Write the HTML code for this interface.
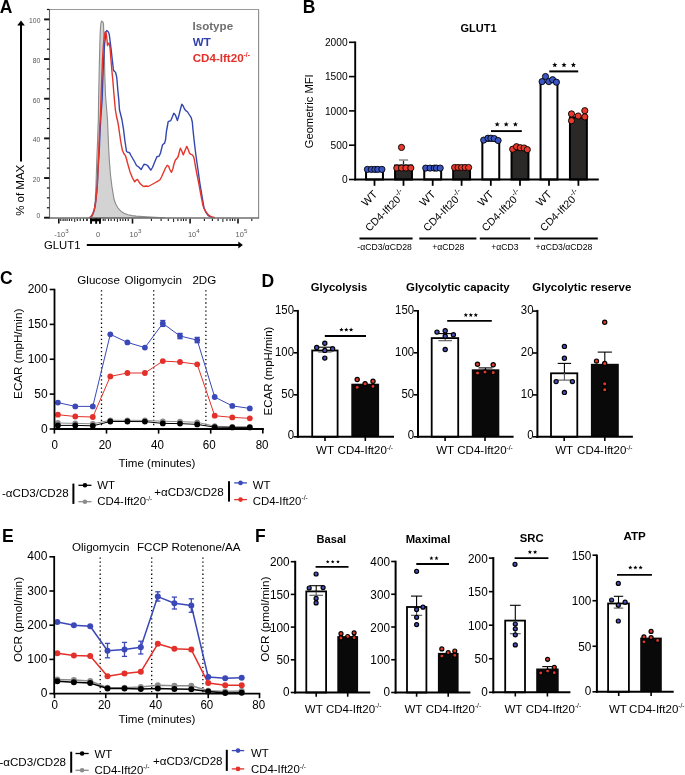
<!DOCTYPE html>
<html><head><meta charset="utf-8"><style>
html,body{margin:0;padding:0;background:#fff;}
svg{display:block;font-family:"Liberation Sans", sans-serif;will-change:transform;}
</style></head><body>
<svg width="685" height="775" viewBox="0 0 685 775">
<rect x="0" y="0" width="685" height="775" fill="#fff"/>
<text x="-0.30" y="12.85" font-size="17.5" text-anchor="start" fill="#000" font-weight="bold" >A</text>
<path d="M90.50,217.70 L92.20,216.50 L93.50,213.00 L94.50,208.00 L95.20,200.90 L96.00,185.00 L96.80,160.00 L97.60,140.00 L98.30,120.00 L98.60,100.00 L99.20,70.00 L99.80,45.00 L100.30,30.00 L100.90,23.00 L101.60,21.00 L103.00,22.00 L103.50,24.00 L103.70,30.00 L103.90,45.00 L104.40,55.00 L104.80,75.00 L105.50,95.00 L106.70,110.00 L107.50,120.00 L108.50,145.00 L109.30,160.00 L110.50,175.00 L112.00,187.00 L112.60,190.70 L114.00,199.00 L115.70,203.90 L118.00,208.00 L120.80,211.10 L124.00,213.20 L127.90,214.70 L132.00,215.60 L136.10,216.10 L146.30,216.80 L155.00,217.30 L165.00,217.70 Z" fill="#d3d3d3" stroke="#8a8a8a" stroke-width="1.1" stroke-linejoin="miter" stroke-miterlimit="10"/>
<polyline points="89.40,217.70 90.60,217.00 91.80,215.60 93.00,213.20 94.20,210.00 95.20,205.50 96.00,199.00 96.70,192.00 97.30,185.00 98.00,170.00 99.30,150.00 100.10,130.00 100.80,118.00 102.10,100.00 102.80,80.00 103.60,60.00 104.50,45.00 105.30,38.00 105.20,32.50 106.70,30.60 108.00,31.50 109.20,34.00 110.00,40.40 111.20,50.00 112.30,60.00 112.90,65.00 113.40,70.00 114.50,71.50 115.40,72.00 116.00,74.00 116.50,76.10 117.00,80.00 117.80,90.00 118.80,100.00 119.50,110.00 120.80,115.00 122.00,120.00 123.60,129.90 124.80,140.00 126.50,151.50 128.00,152.30 129.50,152.60 131.00,155.50 133.00,159.00 135.00,162.50 136.50,165.50 138.50,166.80 141.10,169.60 142.50,167.00 144.00,164.30 146.00,164.60 147.60,165.50 149.30,168.00 150.80,170.20 152.50,167.50 154.50,162.50 156.90,156.70 159.20,156.10 160.50,153.00 162.60,144.70 164.60,143.10 165.50,140.00 166.50,131.00 168.20,121.70 170.70,120.70 172.30,117.00 173.80,113.30 175.40,115.00 177.40,120.50 179.00,115.00 180.50,109.00 181.80,104.30 183.20,106.00 184.50,109.00 185.50,110.40 187.60,112.00 189.50,115.00 191.20,117.60 192.30,122.00 193.00,130.00 194.30,142.00 195.50,152.00 196.60,160.00 198.30,172.00 199.90,183.70 202.00,196.00 203.90,207.20 205.80,212.20 208.00,215.30 210.50,216.90 212.50,217.60" fill="none" stroke="#3346b0" stroke-width="1.4" stroke-linejoin="round" />
<polyline points="89.40,217.70 90.60,217.00 91.80,215.60 93.00,213.20 94.20,210.00 95.20,205.50 96.00,199.00 96.70,192.00 97.30,185.00 98.00,170.00 98.80,150.00 99.60,130.00 100.30,118.00 101.00,100.00 101.70,80.00 102.50,60.00 103.40,45.00 104.20,38.00 104.80,34.00 105.40,31.60 106.20,33.00 106.80,38.00 107.50,45.60 108.30,43.50 109.00,43.00 109.60,45.00 110.20,50.00 111.00,60.00 111.80,70.00 112.80,80.00 114.00,95.00 115.40,110.00 116.60,117.00 117.60,121.00 118.40,125.20 119.50,133.00 120.50,140.00 121.50,146.00 122.40,150.30 123.80,153.50 125.40,155.60 126.50,159.00 127.50,163.00 128.80,167.50 130.00,171.90 131.50,175.50 132.50,178.00 134.70,181.80 136.20,180.00 137.60,179.50 139.00,182.00 140.50,184.00 142.50,185.80 144.00,186.50 146.00,186.00 148.20,186.50 151.00,185.00 154.60,183.00 157.50,181.30 159.80,180.00 161.50,177.00 163.50,172.50 165.50,168.00 167.20,165.30 168.50,166.00 169.80,169.50 171.50,172.30 172.80,169.00 174.00,164.00 175.30,160.20 177.20,158.00 178.20,156.50 179.30,152.00 180.40,148.20 181.80,151.00 183.30,154.90 185.00,150.50 186.80,146.40 188.20,149.50 189.60,153.40 191.00,154.30 192.20,154.90 193.50,156.50 194.40,160.00 195.20,165.00 196.50,172.00 197.80,178.50 198.80,183.70 200.80,194.50 202.90,205.20 204.00,208.50 205.00,210.30 207.00,213.20 209.00,215.40 211.00,216.60 213.10,217.20 215.00,217.70" fill="none" stroke="#e5352b" stroke-width="1.4" stroke-linejoin="round" />
<line x1="49.50" y1="9.50" x2="259.00" y2="9.50" stroke="#9a9a9a" stroke-width="1" />
<line x1="258.60" y1="9.50" x2="258.60" y2="218.00" stroke="#8a8a8a" stroke-width="1.1" />
<line x1="49.50" y1="9.30" x2="49.50" y2="218.50" stroke="#666" stroke-width="1.1" />
<line x1="49.00" y1="218.00" x2="259.10" y2="218.00" stroke="#6e6e6e" stroke-width="1.5" />
<line x1="44.10" y1="217.70" x2="49.40" y2="217.70" stroke="#111" stroke-width="1.9" />
<text transform="translate(40.40 218.20) scale(0.85 1)" x="0" y="0" font-size="8.0" text-anchor="end" fill="#555">0</text>
<line x1="46.90" y1="207.78" x2="49.40" y2="207.78" stroke="#111" stroke-width="1.2" />
<line x1="46.90" y1="197.87" x2="49.40" y2="197.87" stroke="#111" stroke-width="1.2" />
<line x1="46.90" y1="187.95" x2="49.40" y2="187.95" stroke="#111" stroke-width="1.2" />
<line x1="44.10" y1="178.04" x2="49.40" y2="178.04" stroke="#111" stroke-width="1.9" />
<text transform="translate(40.40 181.94) scale(0.85 1)" x="0" y="0" font-size="8.0" text-anchor="end" fill="#555">20</text>
<line x1="46.90" y1="168.12" x2="49.40" y2="168.12" stroke="#111" stroke-width="1.2" />
<line x1="46.90" y1="158.21" x2="49.40" y2="158.21" stroke="#111" stroke-width="1.2" />
<line x1="46.90" y1="148.29" x2="49.40" y2="148.29" stroke="#111" stroke-width="1.2" />
<line x1="44.10" y1="138.38" x2="49.40" y2="138.38" stroke="#111" stroke-width="1.9" />
<text transform="translate(40.40 142.28) scale(0.85 1)" x="0" y="0" font-size="8.0" text-anchor="end" fill="#555">40</text>
<line x1="46.90" y1="128.46" x2="49.40" y2="128.46" stroke="#111" stroke-width="1.2" />
<line x1="46.90" y1="118.55" x2="49.40" y2="118.55" stroke="#111" stroke-width="1.2" />
<line x1="46.90" y1="108.63" x2="49.40" y2="108.63" stroke="#111" stroke-width="1.2" />
<line x1="44.10" y1="98.72" x2="49.40" y2="98.72" stroke="#111" stroke-width="1.9" />
<text transform="translate(40.40 102.62) scale(0.85 1)" x="0" y="0" font-size="8.0" text-anchor="end" fill="#555">60</text>
<line x1="46.90" y1="88.80" x2="49.40" y2="88.80" stroke="#111" stroke-width="1.2" />
<line x1="46.90" y1="78.89" x2="49.40" y2="78.89" stroke="#111" stroke-width="1.2" />
<line x1="46.90" y1="68.97" x2="49.40" y2="68.97" stroke="#111" stroke-width="1.2" />
<line x1="44.10" y1="59.06" x2="49.40" y2="59.06" stroke="#111" stroke-width="1.9" />
<text transform="translate(40.40 62.96) scale(0.85 1)" x="0" y="0" font-size="8.0" text-anchor="end" fill="#555">80</text>
<line x1="46.90" y1="49.14" x2="49.40" y2="49.14" stroke="#111" stroke-width="1.2" />
<line x1="46.90" y1="39.23" x2="49.40" y2="39.23" stroke="#111" stroke-width="1.2" />
<line x1="46.90" y1="29.31" x2="49.40" y2="29.31" stroke="#111" stroke-width="1.2" />
<line x1="44.10" y1="19.40" x2="49.40" y2="19.40" stroke="#111" stroke-width="1.9" />
<text transform="translate(40.40 23.30) scale(0.85 1)" x="0" y="0" font-size="8.0" text-anchor="end" fill="#555">100</text>
<line x1="46.90" y1="9.48" x2="49.40" y2="9.48" stroke="#111" stroke-width="1.2" />
<line x1="60.80" y1="218.70" x2="60.80" y2="221.00" stroke="#1a1a1a" stroke-width="1.1" />
<line x1="63.10" y1="218.70" x2="63.10" y2="221.00" stroke="#1a1a1a" stroke-width="1.1" />
<line x1="65.10" y1="218.70" x2="65.10" y2="221.00" stroke="#1a1a1a" stroke-width="1.1" />
<line x1="67.10" y1="218.70" x2="67.10" y2="221.00" stroke="#1a1a1a" stroke-width="1.1" />
<line x1="69.40" y1="218.70" x2="69.40" y2="221.00" stroke="#1a1a1a" stroke-width="1.1" />
<line x1="71.70" y1="218.70" x2="71.70" y2="221.00" stroke="#1a1a1a" stroke-width="1.1" />
<line x1="77.30" y1="218.70" x2="77.30" y2="221.00" stroke="#1a1a1a" stroke-width="1.1" />
<line x1="80.20" y1="218.70" x2="80.20" y2="221.00" stroke="#1a1a1a" stroke-width="1.1" />
<line x1="83.50" y1="218.70" x2="83.50" y2="221.00" stroke="#1a1a1a" stroke-width="1.1" />
<line x1="86.80" y1="218.70" x2="86.80" y2="221.00" stroke="#1a1a1a" stroke-width="1.1" />
<line x1="87.10" y1="218.70" x2="87.10" y2="221.00" stroke="#1a1a1a" stroke-width="1.1" />
<line x1="103.20" y1="218.70" x2="103.20" y2="221.00" stroke="#1a1a1a" stroke-width="1.1" />
<line x1="105.10" y1="218.70" x2="105.10" y2="221.00" stroke="#1a1a1a" stroke-width="1.1" />
<line x1="108.50" y1="218.70" x2="108.50" y2="221.00" stroke="#1a1a1a" stroke-width="1.1" />
<line x1="111.10" y1="218.70" x2="111.10" y2="221.00" stroke="#1a1a1a" stroke-width="1.1" />
<line x1="114.40" y1="218.70" x2="114.40" y2="221.00" stroke="#1a1a1a" stroke-width="1.1" />
<line x1="120.30" y1="218.70" x2="120.30" y2="221.00" stroke="#1a1a1a" stroke-width="1.1" />
<line x1="122.90" y1="218.70" x2="122.90" y2="221.00" stroke="#1a1a1a" stroke-width="1.1" />
<line x1="125.50" y1="218.70" x2="125.50" y2="221.00" stroke="#1a1a1a" stroke-width="1.1" />
<line x1="128.20" y1="218.70" x2="128.20" y2="221.00" stroke="#1a1a1a" stroke-width="1.1" />
<line x1="151.40" y1="218.70" x2="151.40" y2="221.00" stroke="#1a1a1a" stroke-width="1.1" />
<line x1="161.10" y1="218.70" x2="161.10" y2="221.00" stroke="#1a1a1a" stroke-width="1.1" />
<line x1="168.30" y1="218.70" x2="168.30" y2="221.00" stroke="#1a1a1a" stroke-width="1.1" />
<line x1="177.90" y1="218.70" x2="177.90" y2="221.00" stroke="#1a1a1a" stroke-width="1.1" />
<line x1="181.10" y1="218.70" x2="181.10" y2="221.00" stroke="#1a1a1a" stroke-width="1.1" />
<line x1="183.50" y1="218.70" x2="183.50" y2="221.00" stroke="#1a1a1a" stroke-width="1.1" />
<line x1="186.00" y1="218.70" x2="186.00" y2="221.00" stroke="#1a1a1a" stroke-width="1.1" />
<line x1="204.40" y1="218.70" x2="204.40" y2="221.00" stroke="#1a1a1a" stroke-width="1.1" />
<line x1="212.40" y1="218.70" x2="212.40" y2="221.00" stroke="#1a1a1a" stroke-width="1.1" />
<line x1="218.10" y1="218.70" x2="218.10" y2="221.00" stroke="#1a1a1a" stroke-width="1.1" />
<line x1="226.90" y1="218.70" x2="226.90" y2="221.00" stroke="#1a1a1a" stroke-width="1.1" />
<line x1="230.10" y1="218.70" x2="230.10" y2="221.00" stroke="#1a1a1a" stroke-width="1.1" />
<line x1="232.50" y1="218.70" x2="232.50" y2="221.00" stroke="#1a1a1a" stroke-width="1.1" />
<line x1="234.90" y1="218.70" x2="234.90" y2="221.00" stroke="#1a1a1a" stroke-width="1.1" />
<line x1="251.80" y1="218.70" x2="251.80" y2="221.00" stroke="#1a1a1a" stroke-width="1.1" />
<line x1="74.70" y1="218.70" x2="74.70" y2="222.00" stroke="#222" stroke-width="1.0" />
<line x1="117.40" y1="218.70" x2="117.40" y2="222.00" stroke="#222" stroke-width="1.0" />
<line x1="173.60" y1="218.70" x2="173.60" y2="222.00" stroke="#222" stroke-width="1.0" />
<line x1="222.90" y1="218.70" x2="222.90" y2="222.00" stroke="#222" stroke-width="1.0" />
<line x1="58.80" y1="218.70" x2="58.80" y2="223.60" stroke="#111" stroke-width="1.6" />
<line x1="132.50" y1="218.70" x2="132.50" y2="223.60" stroke="#111" stroke-width="1.6" />
<line x1="190.10" y1="218.70" x2="190.10" y2="223.60" stroke="#111" stroke-width="1.6" />
<line x1="238.00" y1="218.70" x2="238.00" y2="223.60" stroke="#111" stroke-width="1.6" />
<rect x="90.10" y="218.50" width="10.80" height="2.80" fill="#000" stroke="none" stroke-width="0" />
<rect x="90.10" y="218.50" width="1.90" height="5.30" fill="#000" stroke="none" stroke-width="0" />
<rect x="95.20" y="218.50" width="1.90" height="5.30" fill="#000" stroke="none" stroke-width="0" />
<rect x="99.00" y="218.50" width="1.90" height="5.30" fill="#000" stroke="none" stroke-width="0" />
<text x="54.30" y="237.1" font-size="7.5" fill="#5a5a5a">-10<tspan font-size="6.2" dy="-4.2">3</tspan></text>
<text x="98.00" y="237.10" font-size="7.5" text-anchor="middle" fill="#5a5a5a" >0</text>
<text x="129.60" y="237.1" font-size="7.5" fill="#5a5a5a">10<tspan font-size="6.2" dy="-4.2">3</tspan></text>
<text x="187.90" y="237.1" font-size="7.5" fill="#5a5a5a">10<tspan font-size="6.2" dy="-4.2">4</tspan></text>
<text x="235.60" y="237.1" font-size="7.5" fill="#5a5a5a">10<tspan font-size="6.2" dy="-4.2">5</tspan></text>
<text x="24.00" y="190.30" font-size="11.5" text-anchor="middle" fill="#000" transform="rotate(-90 24.00 190.30)" >% of MAX</text>
<rect x="20.00" y="24.50" width="2.00" height="137.00" fill="#000" stroke="none" stroke-width="0" />
<path d="M21,20.6 L17.2,25.4 L24.8,25.4 Z" fill="#000"/>
<text x="44.00" y="249.00" font-size="11.3" text-anchor="start" fill="#000" >GLUT1</text>
<rect x="86.80" y="244.00" width="152.50" height="2.00" fill="#000" stroke="none" stroke-width="0" />
<path d="M242.9,245 L238.3,241.6 L238.3,248.4 Z" fill="#000"/>
<text x="192.50" y="29.70" font-size="11.6" text-anchor="start" fill="#6e6e6e" font-weight="bold" >Isotype</text>
<text x="192.70" y="45.60" font-size="11.6" text-anchor="start" fill="#3141a9" font-weight="bold" >WT</text>
<text x="192.7" y="62.2" font-size="11.6" font-weight="bold" fill="#e2302a">CD4-Ift20<tspan font-size="6.8" dy="-5">-/-</tspan></text>
<text x="302.70" y="12.85" font-size="17.5" text-anchor="start" fill="#000" font-weight="bold" >B</text>
<text x="478.60" y="31.60" font-size="11.0" text-anchor="middle" fill="#000" font-weight="bold" >GLUT1</text>
<line x1="355.20" y1="41.50" x2="355.20" y2="180.40" stroke="#000" stroke-width="1.9" />
<line x1="349.00" y1="179.50" x2="355.20" y2="179.50" stroke="#000" stroke-width="1.6" />
<text x="347.60" y="183.10" font-size="10.2" text-anchor="end" fill="#000" >0</text>
<line x1="349.00" y1="145.20" x2="355.20" y2="145.20" stroke="#000" stroke-width="1.6" />
<text x="347.60" y="148.80" font-size="10.2" text-anchor="end" fill="#000" >500</text>
<line x1="349.00" y1="110.90" x2="355.20" y2="110.90" stroke="#000" stroke-width="1.6" />
<text x="347.60" y="114.50" font-size="10.2" text-anchor="end" fill="#000" >1000</text>
<line x1="349.00" y1="76.60" x2="355.20" y2="76.60" stroke="#000" stroke-width="1.6" />
<text x="347.60" y="80.20" font-size="10.2" text-anchor="end" fill="#000" >1500</text>
<line x1="349.00" y1="42.30" x2="355.20" y2="42.30" stroke="#000" stroke-width="1.6" />
<text x="347.60" y="45.90" font-size="10.2" text-anchor="end" fill="#000" >2000</text>
<text x="312.90" y="111.30" font-size="11.2" text-anchor="middle" fill="#000" transform="rotate(-90 312.90 111.30)" >Geometric MFI</text>
<rect x="366.05" y="169.90" width="16.90" height="9.60" fill="#fff" stroke="#000" stroke-width="2" />
<rect x="395.05" y="165.50" width="16.90" height="14.00" fill="#2b2828" stroke="#000" stroke-width="2" />
<rect x="424.25" y="169.90" width="16.90" height="9.60" fill="#fff" stroke="#000" stroke-width="2" />
<rect x="453.15" y="166.40" width="16.90" height="13.10" fill="#2b2828" stroke="#000" stroke-width="2" />
<rect x="482.35" y="140.70" width="16.90" height="38.80" fill="#fff" stroke="#000" stroke-width="2" />
<rect x="511.55" y="149.60" width="16.90" height="29.90" fill="#2b2828" stroke="#000" stroke-width="2" />
<rect x="540.55" y="81.90" width="16.90" height="97.60" fill="#fff" stroke="#000" stroke-width="2" />
<rect x="569.95" y="117.40" width="16.90" height="62.10" fill="#2b2828" stroke="#000" stroke-width="2" />
<line x1="354.30" y1="179.50" x2="598.80" y2="179.50" stroke="#000" stroke-width="1.9" />
<line x1="374.50" y1="179.50" x2="374.50" y2="185.80" stroke="#000" stroke-width="1.8" />
<line x1="403.50" y1="179.50" x2="403.50" y2="185.80" stroke="#000" stroke-width="1.8" />
<line x1="432.70" y1="179.50" x2="432.70" y2="185.80" stroke="#000" stroke-width="1.8" />
<line x1="461.60" y1="179.50" x2="461.60" y2="185.80" stroke="#000" stroke-width="1.8" />
<line x1="490.80" y1="179.50" x2="490.80" y2="185.80" stroke="#000" stroke-width="1.8" />
<line x1="520.00" y1="179.50" x2="520.00" y2="185.80" stroke="#000" stroke-width="1.8" />
<line x1="549.00" y1="179.50" x2="549.00" y2="185.80" stroke="#000" stroke-width="1.8" />
<line x1="578.40" y1="179.50" x2="578.40" y2="185.80" stroke="#000" stroke-width="1.8" />
<line x1="403.50" y1="160.00" x2="403.50" y2="164.50" stroke="#222" stroke-width="1.3" />
<line x1="399.00" y1="160.00" x2="408.00" y2="160.00" stroke="#9a9a9a" stroke-width="1.7" />
<circle cx="367.40" cy="169.40" r="3.1" fill="#3a55c2" stroke="#000" stroke-width="0.9"/>
<circle cx="371.40" cy="169.40" r="3.1" fill="#3a55c2" stroke="#000" stroke-width="0.9"/>
<circle cx="374.90" cy="169.40" r="3.1" fill="#3a55c2" stroke="#000" stroke-width="0.9"/>
<circle cx="377.80" cy="169.40" r="3.1" fill="#3a55c2" stroke="#000" stroke-width="0.9"/>
<circle cx="381.90" cy="169.40" r="3.1" fill="#3a55c2" stroke="#000" stroke-width="0.9"/>
<circle cx="396.80" cy="168.00" r="3.1" fill="#e63b2c" stroke="#000" stroke-width="0.9"/>
<circle cx="401.50" cy="168.00" r="3.1" fill="#e63b2c" stroke="#000" stroke-width="0.9"/>
<circle cx="405.90" cy="168.00" r="3.1" fill="#e63b2c" stroke="#000" stroke-width="0.9"/>
<circle cx="410.80" cy="168.00" r="3.1" fill="#e63b2c" stroke="#000" stroke-width="0.9"/>
<circle cx="401.50" cy="147.40" r="3.1" fill="#e63b2c" stroke="#000" stroke-width="0.9"/>
<circle cx="425.70" cy="168.10" r="3.1" fill="#3a55c2" stroke="#000" stroke-width="0.9"/>
<circle cx="430.10" cy="168.10" r="3.1" fill="#3a55c2" stroke="#000" stroke-width="0.9"/>
<circle cx="434.30" cy="168.10" r="3.1" fill="#3a55c2" stroke="#000" stroke-width="0.9"/>
<circle cx="436.50" cy="168.10" r="3.1" fill="#3a55c2" stroke="#000" stroke-width="0.9"/>
<circle cx="440.20" cy="168.10" r="3.1" fill="#3a55c2" stroke="#000" stroke-width="0.9"/>
<circle cx="454.60" cy="167.50" r="3.1" fill="#e63b2c" stroke="#000" stroke-width="0.9"/>
<circle cx="458.10" cy="167.50" r="3.1" fill="#e63b2c" stroke="#000" stroke-width="0.9"/>
<circle cx="461.60" cy="167.50" r="3.1" fill="#e63b2c" stroke="#000" stroke-width="0.9"/>
<circle cx="465.10" cy="167.50" r="3.1" fill="#e63b2c" stroke="#000" stroke-width="0.9"/>
<circle cx="468.60" cy="167.50" r="3.1" fill="#e63b2c" stroke="#000" stroke-width="0.9"/>
<circle cx="483.70" cy="140.10" r="3.1" fill="#3a55c2" stroke="#000" stroke-width="0.9"/>
<circle cx="488.00" cy="138.20" r="3.1" fill="#3a55c2" stroke="#000" stroke-width="0.9"/>
<circle cx="490.90" cy="138.20" r="3.1" fill="#3a55c2" stroke="#000" stroke-width="0.9"/>
<circle cx="494.30" cy="138.60" r="3.1" fill="#3a55c2" stroke="#000" stroke-width="0.9"/>
<circle cx="498.10" cy="140.50" r="3.1" fill="#3a55c2" stroke="#000" stroke-width="0.9"/>
<circle cx="512.70" cy="149.20" r="3.1" fill="#e63b2c" stroke="#000" stroke-width="0.9"/>
<circle cx="516.50" cy="146.70" r="3.1" fill="#e63b2c" stroke="#000" stroke-width="0.9"/>
<circle cx="520.30" cy="147.70" r="3.1" fill="#e63b2c" stroke="#000" stroke-width="0.9"/>
<circle cx="524.10" cy="148.00" r="3.1" fill="#e63b2c" stroke="#000" stroke-width="0.9"/>
<circle cx="527.30" cy="149.60" r="3.1" fill="#e63b2c" stroke="#000" stroke-width="0.9"/>
<circle cx="542.10" cy="81.60" r="3.1" fill="#3a55c2" stroke="#000" stroke-width="0.9"/>
<circle cx="545.50" cy="76.50" r="3.1" fill="#3a55c2" stroke="#000" stroke-width="0.9"/>
<circle cx="548.80" cy="81.60" r="3.1" fill="#3a55c2" stroke="#000" stroke-width="0.9"/>
<circle cx="552.60" cy="79.70" r="3.1" fill="#3a55c2" stroke="#000" stroke-width="0.9"/>
<circle cx="556.40" cy="82.20" r="3.1" fill="#3a55c2" stroke="#000" stroke-width="0.9"/>
<circle cx="571.50" cy="113.90" r="3.1" fill="#e63b2c" stroke="#000" stroke-width="0.9"/>
<circle cx="571.50" cy="120.70" r="3.1" fill="#e63b2c" stroke="#000" stroke-width="0.9"/>
<circle cx="578.20" cy="116.00" r="3.1" fill="#e63b2c" stroke="#000" stroke-width="0.9"/>
<circle cx="584.80" cy="110.70" r="3.1" fill="#e63b2c" stroke="#000" stroke-width="0.9"/>
<circle cx="584.80" cy="116.90" r="3.1" fill="#e63b2c" stroke="#000" stroke-width="0.9"/>
<line x1="491.00" y1="131.10" x2="521.80" y2="131.10" stroke="#000" stroke-width="1.9" />
<line x1="549.30" y1="71.40" x2="578.20" y2="71.40" stroke="#000" stroke-width="2" />
<path d="M497.20,121.67 L497.91,123.39 L499.77,123.54 L498.36,124.75 L498.79,126.55 L497.20,125.58 L495.61,126.55 L496.04,124.75 L494.63,123.54 L496.49,123.39 Z" fill="#000"/>
<path d="M506.20,121.67 L506.91,123.39 L508.77,123.54 L507.36,124.75 L507.79,126.55 L506.20,125.58 L504.61,126.55 L505.04,124.75 L503.63,123.54 L505.49,123.39 Z" fill="#000"/>
<path d="M515.40,121.67 L516.11,123.39 L517.97,123.54 L516.56,124.75 L516.99,126.55 L515.40,125.58 L513.81,126.55 L514.24,124.75 L512.83,123.54 L514.69,123.39 Z" fill="#000"/>
<path d="M554.80,62.27 L555.51,63.99 L557.37,64.14 L555.96,65.35 L556.39,67.15 L554.80,66.19 L553.21,67.15 L553.64,65.35 L552.23,64.14 L554.09,63.99 Z" fill="#000"/>
<path d="M564.00,62.27 L564.71,63.99 L566.57,64.14 L565.16,65.35 L565.59,67.15 L564.00,66.19 L562.41,67.15 L562.84,65.35 L561.43,64.14 L563.29,63.99 Z" fill="#000"/>
<path d="M573.40,62.27 L574.11,63.99 L575.97,64.14 L574.56,65.35 L574.99,67.15 L573.40,66.19 L571.81,67.15 L572.24,65.35 L570.83,64.14 L572.69,63.99 Z" fill="#000"/>
<text x="378.00" y="195.00" font-size="11.0" text-anchor="end" transform="rotate(-45 378.00 195.00)">WT</text>
<text x="406.40" y="195.00" font-size="10.5" text-anchor="end" transform="rotate(-45 406.40 195.00)">CD4-Ift20<tspan font-size="7.8" dy="-5.0">-/-</tspan></text>
<text x="436.20" y="195.00" font-size="11.0" text-anchor="end" transform="rotate(-45 436.20 195.00)">WT</text>
<text x="464.50" y="195.00" font-size="10.5" text-anchor="end" transform="rotate(-45 464.50 195.00)">CD4-Ift20<tspan font-size="7.8" dy="-5.0">-/-</tspan></text>
<text x="494.30" y="195.00" font-size="11.0" text-anchor="end" transform="rotate(-45 494.30 195.00)">WT</text>
<text x="522.90" y="195.00" font-size="10.5" text-anchor="end" transform="rotate(-45 522.90 195.00)">CD4-Ift20<tspan font-size="7.8" dy="-5.0">-/-</tspan></text>
<text x="552.50" y="195.00" font-size="11.0" text-anchor="end" transform="rotate(-45 552.50 195.00)">WT</text>
<text x="581.30" y="195.00" font-size="10.5" text-anchor="end" transform="rotate(-45 581.30 195.00)">CD4-Ift20<tspan font-size="7.8" dy="-5.0">-/-</tspan></text>
<line x1="359.50" y1="238.50" x2="412.60" y2="238.50" stroke="#000" stroke-width="2" />
<text transform="translate(384.60 249.80) scale(0.92 1)" x="0" y="0" font-size="9.4" text-anchor="middle" fill="#000">-αCD3/αCD28</text>
<line x1="419.30" y1="238.50" x2="476.40" y2="238.50" stroke="#000" stroke-width="2" />
<text transform="translate(448.20 249.80) scale(0.92 1)" x="0" y="0" font-size="9.4" text-anchor="middle" fill="#000">+αCD28</text>
<line x1="479.80" y1="238.50" x2="530.30" y2="238.50" stroke="#000" stroke-width="2" />
<text transform="translate(504.80 249.80) scale(0.92 1)" x="0" y="0" font-size="9.4" text-anchor="middle" fill="#000">+αCD3</text>
<line x1="534.00" y1="238.50" x2="597.80" y2="238.50" stroke="#000" stroke-width="2" />
<text transform="translate(564.00 249.80) scale(0.92 1)" x="0" y="0" font-size="9.4" text-anchor="middle" fill="#000">+αCD3/αCD28</text>
<text x="0.00" y="284.40" font-size="17.5" text-anchor="start" fill="#000" font-weight="bold" >C</text>
<line x1="101.50" y1="290.20" x2="101.50" y2="428.00" stroke="#000" stroke-width="1.3" stroke-dasharray="1.3 2.75"/>
<line x1="153.70" y1="290.20" x2="153.70" y2="428.00" stroke="#000" stroke-width="1.3" stroke-dasharray="1.3 2.75"/>
<line x1="205.90" y1="290.20" x2="205.90" y2="428.00" stroke="#000" stroke-width="1.3" stroke-dasharray="1.3 2.75"/>
<polyline points="57.90,423.00 75.30,423.40 92.80,423.80 110.30,420.30 127.40,420.30 144.90,420.40 162.80,421.30 180.00,421.60 197.20,422.30 214.70,426.20 232.30,426.80 249.80,426.80" fill="none" stroke="#8c8c8c" stroke-width="1.0" stroke-linejoin="round" />
<circle cx="57.90" cy="423.00" r="2.9" fill="#8c8c8c"/>
<circle cx="75.30" cy="423.40" r="2.9" fill="#8c8c8c"/>
<circle cx="92.80" cy="423.80" r="2.9" fill="#8c8c8c"/>
<circle cx="110.30" cy="420.30" r="2.9" fill="#8c8c8c"/>
<circle cx="127.40" cy="420.30" r="2.9" fill="#8c8c8c"/>
<circle cx="144.90" cy="420.40" r="2.9" fill="#8c8c8c"/>
<circle cx="162.80" cy="421.30" r="2.9" fill="#8c8c8c"/>
<circle cx="180.00" cy="421.60" r="2.9" fill="#8c8c8c"/>
<circle cx="197.20" cy="422.30" r="2.9" fill="#8c8c8c"/>
<circle cx="214.70" cy="426.20" r="2.9" fill="#8c8c8c"/>
<circle cx="232.30" cy="426.80" r="2.9" fill="#8c8c8c"/>
<circle cx="249.80" cy="426.80" r="2.9" fill="#8c8c8c"/>
<polyline points="57.90,425.40 75.30,425.40 92.80,425.80 110.30,421.50 127.40,421.50 144.90,421.60 162.80,423.40 180.00,423.60 197.20,424.40 214.70,427.20 232.30,427.40 249.80,427.40" fill="none" stroke="#000" stroke-width="1.0" stroke-linejoin="round" />
<circle cx="57.90" cy="425.40" r="2.9" fill="#000"/>
<circle cx="75.30" cy="425.40" r="2.9" fill="#000"/>
<circle cx="92.80" cy="425.80" r="2.9" fill="#000"/>
<circle cx="110.30" cy="421.50" r="2.9" fill="#000"/>
<circle cx="127.40" cy="421.50" r="2.9" fill="#000"/>
<circle cx="144.90" cy="421.60" r="2.9" fill="#000"/>
<circle cx="162.80" cy="423.40" r="2.9" fill="#000"/>
<circle cx="180.00" cy="423.60" r="2.9" fill="#000"/>
<circle cx="197.20" cy="424.40" r="2.9" fill="#000"/>
<circle cx="214.70" cy="427.20" r="2.9" fill="#000"/>
<circle cx="232.30" cy="427.40" r="2.9" fill="#000"/>
<circle cx="249.80" cy="427.40" r="2.9" fill="#000"/>
<polyline points="57.90,414.70 75.30,416.50 92.80,417.00 110.30,376.40 127.40,373.00 144.90,373.00 162.80,361.10 180.00,362.00 197.20,364.30 214.70,415.70 232.30,417.40 249.80,418.30" fill="none" stroke="#e3302a" stroke-width="1.0" stroke-linejoin="round" />
<circle cx="57.90" cy="414.70" r="2.9" fill="#e3302a"/>
<circle cx="75.30" cy="416.50" r="2.9" fill="#e3302a"/>
<circle cx="92.80" cy="417.00" r="2.9" fill="#e3302a"/>
<circle cx="110.30" cy="376.40" r="2.9" fill="#e3302a"/>
<circle cx="127.40" cy="373.00" r="2.9" fill="#e3302a"/>
<circle cx="144.90" cy="373.00" r="2.9" fill="#e3302a"/>
<circle cx="162.80" cy="361.10" r="2.9" fill="#e3302a"/>
<circle cx="180.00" cy="362.00" r="2.9" fill="#e3302a"/>
<circle cx="197.20" cy="364.30" r="2.9" fill="#e3302a"/>
<circle cx="214.70" cy="415.70" r="2.9" fill="#e3302a"/>
<circle cx="232.30" cy="417.40" r="2.9" fill="#e3302a"/>
<circle cx="249.80" cy="418.30" r="2.9" fill="#e3302a"/>
<polyline points="57.90,402.60 75.30,406.40 92.80,406.40 110.30,334.30 127.40,342.40 144.90,347.60 162.80,323.40 180.00,336.00 197.20,340.10 214.70,397.00 232.30,405.90 249.80,408.40" fill="none" stroke="#3a48b8" stroke-width="1.0" stroke-linejoin="round" />
<line x1="162.80" y1="320.50" x2="162.80" y2="326.40" stroke="#3a48b8" stroke-width="1.3" />
<line x1="160.20" y1="320.50" x2="165.40" y2="320.50" stroke="#3a48b8" stroke-width="1.3" />
<line x1="160.20" y1="326.40" x2="165.40" y2="326.40" stroke="#3a48b8" stroke-width="1.3" />
<line x1="180.00" y1="333.40" x2="180.00" y2="338.70" stroke="#3a48b8" stroke-width="1.3" />
<line x1="177.40" y1="333.40" x2="182.60" y2="333.40" stroke="#3a48b8" stroke-width="1.3" />
<line x1="177.40" y1="338.70" x2="182.60" y2="338.70" stroke="#3a48b8" stroke-width="1.3" />
<line x1="197.20" y1="337.40" x2="197.20" y2="342.70" stroke="#3a48b8" stroke-width="1.3" />
<line x1="194.60" y1="337.40" x2="199.80" y2="337.40" stroke="#3a48b8" stroke-width="1.3" />
<line x1="194.60" y1="342.70" x2="199.80" y2="342.70" stroke="#3a48b8" stroke-width="1.3" />
<circle cx="57.90" cy="402.60" r="2.9" fill="#3a48b8"/>
<circle cx="75.30" cy="406.40" r="2.9" fill="#3a48b8"/>
<circle cx="92.80" cy="406.40" r="2.9" fill="#3a48b8"/>
<circle cx="110.30" cy="334.30" r="2.9" fill="#3a48b8"/>
<circle cx="127.40" cy="342.40" r="2.9" fill="#3a48b8"/>
<circle cx="144.90" cy="347.60" r="2.9" fill="#3a48b8"/>
<circle cx="162.80" cy="323.40" r="2.9" fill="#3a48b8"/>
<circle cx="180.00" cy="336.00" r="2.9" fill="#3a48b8"/>
<circle cx="197.20" cy="340.10" r="2.9" fill="#3a48b8"/>
<circle cx="214.70" cy="397.00" r="2.9" fill="#3a48b8"/>
<circle cx="232.30" cy="405.90" r="2.9" fill="#3a48b8"/>
<circle cx="249.80" cy="408.40" r="2.9" fill="#3a48b8"/>
<line x1="54.50" y1="288.80" x2="54.50" y2="429.90" stroke="#000" stroke-width="1.8" />
<line x1="53.60" y1="429.00" x2="263.90" y2="429.00" stroke="#000" stroke-width="1.8" />
<line x1="49.70" y1="429.00" x2="54.50" y2="429.00" stroke="#000" stroke-width="1.6" />
<text x="47.70" y="432.50" font-size="12.0" text-anchor="end" fill="#000" >0</text>
<line x1="49.70" y1="394.12" x2="54.50" y2="394.12" stroke="#000" stroke-width="1.6" />
<text x="47.70" y="397.62" font-size="12.0" text-anchor="end" fill="#000" >50</text>
<line x1="49.70" y1="359.25" x2="54.50" y2="359.25" stroke="#000" stroke-width="1.6" />
<text x="47.70" y="362.75" font-size="12.0" text-anchor="end" fill="#000" >100</text>
<line x1="49.70" y1="324.38" x2="54.50" y2="324.38" stroke="#000" stroke-width="1.6" />
<text x="47.70" y="327.88" font-size="12.0" text-anchor="end" fill="#000" >150</text>
<line x1="49.70" y1="289.50" x2="54.50" y2="289.50" stroke="#000" stroke-width="1.6" />
<text x="47.70" y="293.00" font-size="12.0" text-anchor="end" fill="#000" >200</text>
<line x1="54.40" y1="429.00" x2="54.40" y2="433.60" stroke="#000" stroke-width="1.6" />
<text transform="translate(54.70 448.80) scale(0.95 1)" x="0" y="0" font-size="12.2" text-anchor="middle" fill="#000">0</text>
<line x1="106.50" y1="429.00" x2="106.50" y2="433.60" stroke="#000" stroke-width="1.6" />
<text transform="translate(105.10 448.80) scale(0.95 1)" x="0" y="0" font-size="12.2" text-anchor="middle" fill="#000">20</text>
<line x1="158.60" y1="429.00" x2="158.60" y2="433.60" stroke="#000" stroke-width="1.6" />
<text transform="translate(157.40 448.80) scale(0.95 1)" x="0" y="0" font-size="12.2" text-anchor="middle" fill="#000">40</text>
<line x1="210.70" y1="429.00" x2="210.70" y2="433.60" stroke="#000" stroke-width="1.6" />
<text transform="translate(209.30 448.80) scale(0.95 1)" x="0" y="0" font-size="12.2" text-anchor="middle" fill="#000">60</text>
<line x1="262.80" y1="429.00" x2="262.80" y2="433.60" stroke="#000" stroke-width="1.6" />
<text transform="translate(262.10 448.80) scale(0.95 1)" x="0" y="0" font-size="12.2" text-anchor="middle" fill="#000">80</text>
<text x="157.00" y="467.20" font-size="11.6" text-anchor="middle" fill="#000" >Time (minutes)</text>
<text x="22.40" y="353.80" font-size="11.7" text-anchor="middle" fill="#000" transform="rotate(-90 22.40 353.80)" >ECAR (mpH/min)</text>
<text x="77.30" y="284.40" font-size="11.6" text-anchor="start" fill="#000" >Glucose</text>
<text x="124.60" y="284.40" font-size="11.6" text-anchor="start" fill="#000" >Oligomycin</text>
<text x="192.40" y="284.40" font-size="11.6" text-anchor="start" fill="#000" >2DG</text>
<text x="2.10" y="541.90" font-size="17.5" text-anchor="start" fill="#000" font-weight="bold" >E</text>
<line x1="100.20" y1="557.40" x2="100.20" y2="692.60" stroke="#000" stroke-width="1.3" stroke-dasharray="1.3 2.75"/>
<line x1="151.70" y1="557.40" x2="151.70" y2="692.60" stroke="#000" stroke-width="1.3" stroke-dasharray="1.3 2.75"/>
<line x1="202.90" y1="557.40" x2="202.90" y2="692.60" stroke="#000" stroke-width="1.3" stroke-dasharray="1.3 2.75"/>
<polyline points="57.30,679.60 73.90,680.10 90.20,681.00 107.50,687.80 124.50,687.80 140.80,686.90 157.80,685.30 174.40,685.80 191.30,685.80 208.20,690.80 225.20,691.60 241.70,691.00" fill="none" stroke="#8c8c8c" stroke-width="1.5" stroke-linejoin="round" />
<circle cx="57.30" cy="679.60" r="3.0" fill="#8c8c8c"/>
<circle cx="73.90" cy="680.10" r="3.0" fill="#8c8c8c"/>
<circle cx="90.20" cy="681.00" r="3.0" fill="#8c8c8c"/>
<circle cx="107.50" cy="687.80" r="3.0" fill="#8c8c8c"/>
<circle cx="124.50" cy="687.80" r="3.0" fill="#8c8c8c"/>
<circle cx="140.80" cy="686.90" r="3.0" fill="#8c8c8c"/>
<circle cx="157.80" cy="685.30" r="3.0" fill="#8c8c8c"/>
<circle cx="174.40" cy="685.80" r="3.0" fill="#8c8c8c"/>
<circle cx="191.30" cy="685.80" r="3.0" fill="#8c8c8c"/>
<circle cx="208.20" cy="690.80" r="3.0" fill="#8c8c8c"/>
<circle cx="225.20" cy="691.60" r="3.0" fill="#8c8c8c"/>
<circle cx="241.70" cy="691.00" r="3.0" fill="#8c8c8c"/>
<polyline points="57.30,681.30 73.90,682.20 90.20,683.10 107.50,688.50 124.50,688.50 140.80,689.00 157.80,688.50 174.40,689.00 191.30,689.30 208.20,691.50 225.20,693.00 241.70,692.70" fill="none" stroke="#000" stroke-width="1.5" stroke-linejoin="round" />
<circle cx="57.30" cy="681.30" r="3.0" fill="#000"/>
<circle cx="73.90" cy="682.20" r="3.0" fill="#000"/>
<circle cx="90.20" cy="683.10" r="3.0" fill="#000"/>
<circle cx="107.50" cy="688.50" r="3.0" fill="#000"/>
<circle cx="124.50" cy="688.50" r="3.0" fill="#000"/>
<circle cx="140.80" cy="689.00" r="3.0" fill="#000"/>
<circle cx="157.80" cy="688.50" r="3.0" fill="#000"/>
<circle cx="174.40" cy="689.00" r="3.0" fill="#000"/>
<circle cx="191.30" cy="689.30" r="3.0" fill="#000"/>
<circle cx="208.20" cy="691.50" r="3.0" fill="#000"/>
<circle cx="225.20" cy="693.00" r="3.0" fill="#000"/>
<circle cx="241.70" cy="692.70" r="3.0" fill="#000"/>
<polyline points="57.30,653.30 73.90,655.40 90.20,655.90 107.50,676.20 124.50,673.60 140.80,671.80 157.80,643.80 174.40,648.70 191.30,649.60 208.20,683.10 225.20,685.20 241.70,685.20" fill="none" stroke="#e3302a" stroke-width="1.5" stroke-linejoin="round" />
<circle cx="57.30" cy="653.30" r="3.0" fill="#e3302a"/>
<circle cx="73.90" cy="655.40" r="3.0" fill="#e3302a"/>
<circle cx="90.20" cy="655.90" r="3.0" fill="#e3302a"/>
<circle cx="107.50" cy="676.20" r="3.0" fill="#e3302a"/>
<circle cx="124.50" cy="673.60" r="3.0" fill="#e3302a"/>
<circle cx="140.80" cy="671.80" r="3.0" fill="#e3302a"/>
<circle cx="157.80" cy="643.80" r="3.0" fill="#e3302a"/>
<circle cx="174.40" cy="648.70" r="3.0" fill="#e3302a"/>
<circle cx="191.30" cy="649.60" r="3.0" fill="#e3302a"/>
<circle cx="208.20" cy="683.10" r="3.0" fill="#e3302a"/>
<circle cx="225.20" cy="685.20" r="3.0" fill="#e3302a"/>
<circle cx="241.70" cy="685.20" r="3.0" fill="#e3302a"/>
<polyline points="57.30,622.10 73.90,625.30 90.20,626.30 107.50,650.80 124.50,649.60 140.80,647.30 157.80,596.60 174.40,603.20 191.30,605.50 208.20,677.00 225.20,678.20 241.70,677.80" fill="none" stroke="#3a48b8" stroke-width="1.5" stroke-linejoin="round" />
<line x1="107.50" y1="643.40" x2="107.50" y2="657.80" stroke="#3a48b8" stroke-width="1.3" />
<line x1="104.90" y1="643.40" x2="110.10" y2="643.40" stroke="#3a48b8" stroke-width="1.3" />
<line x1="104.90" y1="657.80" x2="110.10" y2="657.80" stroke="#3a48b8" stroke-width="1.3" />
<line x1="124.50" y1="642.40" x2="124.50" y2="656.40" stroke="#3a48b8" stroke-width="1.3" />
<line x1="121.90" y1="642.40" x2="127.10" y2="642.40" stroke="#3a48b8" stroke-width="1.3" />
<line x1="121.90" y1="656.40" x2="127.10" y2="656.40" stroke="#3a48b8" stroke-width="1.3" />
<line x1="140.80" y1="641.20" x2="140.80" y2="654.00" stroke="#3a48b8" stroke-width="1.3" />
<line x1="138.20" y1="641.20" x2="143.40" y2="641.20" stroke="#3a48b8" stroke-width="1.3" />
<line x1="138.20" y1="654.00" x2="143.40" y2="654.00" stroke="#3a48b8" stroke-width="1.3" />
<line x1="157.80" y1="591.80" x2="157.80" y2="601.10" stroke="#3a48b8" stroke-width="1.3" />
<line x1="155.20" y1="591.80" x2="160.40" y2="591.80" stroke="#3a48b8" stroke-width="1.3" />
<line x1="155.20" y1="601.10" x2="160.40" y2="601.10" stroke="#3a48b8" stroke-width="1.3" />
<line x1="174.40" y1="597.10" x2="174.40" y2="609.00" stroke="#3a48b8" stroke-width="1.3" />
<line x1="171.80" y1="597.10" x2="177.00" y2="597.10" stroke="#3a48b8" stroke-width="1.3" />
<line x1="171.80" y1="609.00" x2="177.00" y2="609.00" stroke="#3a48b8" stroke-width="1.3" />
<line x1="191.30" y1="598.80" x2="191.30" y2="612.30" stroke="#3a48b8" stroke-width="1.3" />
<line x1="188.70" y1="598.80" x2="193.90" y2="598.80" stroke="#3a48b8" stroke-width="1.3" />
<line x1="188.70" y1="612.30" x2="193.90" y2="612.30" stroke="#3a48b8" stroke-width="1.3" />
<circle cx="57.30" cy="622.10" r="3.0" fill="#3a48b8"/>
<circle cx="73.90" cy="625.30" r="3.0" fill="#3a48b8"/>
<circle cx="90.20" cy="626.30" r="3.0" fill="#3a48b8"/>
<circle cx="107.50" cy="650.80" r="3.0" fill="#3a48b8"/>
<circle cx="124.50" cy="649.60" r="3.0" fill="#3a48b8"/>
<circle cx="140.80" cy="647.30" r="3.0" fill="#3a48b8"/>
<circle cx="157.80" cy="596.60" r="3.0" fill="#3a48b8"/>
<circle cx="174.40" cy="603.20" r="3.0" fill="#3a48b8"/>
<circle cx="191.30" cy="605.50" r="3.0" fill="#3a48b8"/>
<circle cx="208.20" cy="677.00" r="3.0" fill="#3a48b8"/>
<circle cx="225.20" cy="678.20" r="3.0" fill="#3a48b8"/>
<circle cx="241.70" cy="677.80" r="3.0" fill="#3a48b8"/>
<line x1="54.20" y1="556.00" x2="54.20" y2="694.50" stroke="#000" stroke-width="1.8" />
<line x1="53.30" y1="693.60" x2="260.30" y2="693.60" stroke="#000" stroke-width="1.8" />
<line x1="49.40" y1="693.60" x2="54.20" y2="693.60" stroke="#000" stroke-width="1.6" />
<text x="47.40" y="697.10" font-size="12.0" text-anchor="end" fill="#000" >0</text>
<line x1="49.40" y1="659.40" x2="54.20" y2="659.40" stroke="#000" stroke-width="1.6" />
<text x="47.40" y="662.90" font-size="12.0" text-anchor="end" fill="#000" >100</text>
<line x1="49.40" y1="625.20" x2="54.20" y2="625.20" stroke="#000" stroke-width="1.6" />
<text x="47.40" y="628.70" font-size="12.0" text-anchor="end" fill="#000" >200</text>
<line x1="49.40" y1="591.00" x2="54.20" y2="591.00" stroke="#000" stroke-width="1.6" />
<text x="47.40" y="594.50" font-size="12.0" text-anchor="end" fill="#000" >300</text>
<line x1="49.40" y1="556.80" x2="54.20" y2="556.80" stroke="#000" stroke-width="1.6" />
<text x="47.40" y="560.30" font-size="12.0" text-anchor="end" fill="#000" >400</text>
<line x1="54.50" y1="693.60" x2="54.50" y2="698.20" stroke="#000" stroke-width="1.6" />
<text transform="translate(54.80 708.90) scale(0.95 1)" x="0" y="0" font-size="12.2" text-anchor="middle" fill="#000">0</text>
<line x1="105.75" y1="693.60" x2="105.75" y2="698.20" stroke="#000" stroke-width="1.6" />
<text transform="translate(104.35 708.90) scale(0.95 1)" x="0" y="0" font-size="12.2" text-anchor="middle" fill="#000">20</text>
<line x1="157.00" y1="693.60" x2="157.00" y2="698.20" stroke="#000" stroke-width="1.6" />
<text transform="translate(155.80 708.90) scale(0.95 1)" x="0" y="0" font-size="12.2" text-anchor="middle" fill="#000">40</text>
<line x1="208.25" y1="693.60" x2="208.25" y2="698.20" stroke="#000" stroke-width="1.6" />
<text transform="translate(206.85 708.90) scale(0.95 1)" x="0" y="0" font-size="12.2" text-anchor="middle" fill="#000">60</text>
<line x1="259.50" y1="693.60" x2="259.50" y2="698.20" stroke="#000" stroke-width="1.6" />
<text transform="translate(258.80 708.90) scale(0.95 1)" x="0" y="0" font-size="12.2" text-anchor="middle" fill="#000">80</text>
<text x="157.00" y="722.50" font-size="11.6" text-anchor="middle" fill="#000" >Time (minutes)</text>
<text x="22.40" y="619.50" font-size="11.8" text-anchor="middle" fill="#000" transform="rotate(-90 22.40 619.50)" >OCR (pmol/min)</text>
<text x="72.00" y="550.70" font-size="11.6" text-anchor="start" fill="#000" >Oligomycin</text>
<text x="137.00" y="550.70" font-size="11.6" text-anchor="start" fill="#000" >FCCP</text>
<text x="171.60" y="550.70" font-size="11.6" text-anchor="start" fill="#000" >Rotenone/AA</text>
<text x="2.00" y="496.70" font-size="11.6" text-anchor="start" fill="#000" >-αCD3/CD28</text>
<rect x="72.40" y="483.60" width="2.00" height="20.30" fill="#000" stroke="none" stroke-width="0" />
<line x1="78.40" y1="485.30" x2="91.50" y2="485.30" stroke="#000" stroke-width="1.3" />
<circle cx="84.95" cy="485.30" r="2.3" fill="#000"/>
<line x1="78.40" y1="501.70" x2="91.50" y2="501.70" stroke="#8c8c8c" stroke-width="1.3" />
<circle cx="84.95" cy="501.70" r="2.3" fill="#8c8c8c"/>
<text x="97.30" y="489.30" font-size="11.4" text-anchor="start" fill="#000" >WT</text>
<text x="97.30" y="505.20" font-size="11.4">CD4-Ift20<tspan font-size="6.6" dy="-4.6">-/-</tspan></text>
<text x="154.20" y="496.00" font-size="11.6" text-anchor="start" fill="#000" >+αCD3/CD28</text>
<rect x="228.00" y="481.20" width="2.00" height="20.40" fill="#000" stroke="none" stroke-width="0" />
<line x1="234.20" y1="482.90" x2="246.90" y2="482.90" stroke="#3a48b8" stroke-width="1.3" />
<circle cx="240.55" cy="482.90" r="2.3" fill="#3a48b8"/>
<line x1="234.20" y1="499.60" x2="246.90" y2="499.60" stroke="#e3302a" stroke-width="1.3" />
<circle cx="240.55" cy="499.60" r="2.3" fill="#e3302a"/>
<text x="252.70" y="488.50" font-size="11.4" text-anchor="start" fill="#000" >WT</text>
<text x="252.70" y="504.90" font-size="11.4">CD4-Ift20<tspan font-size="6.6" dy="-4.6">-/-</tspan></text>
<text x="-0.60" y="766.20" font-size="11.6" text-anchor="start" fill="#000" >-αCD3/CD28</text>
<rect x="70.20" y="751.70" width="2.00" height="21.00" fill="#000" stroke="none" stroke-width="0" />
<line x1="75.50" y1="753.50" x2="88.70" y2="753.50" stroke="#000" stroke-width="1.3" />
<circle cx="82.10" cy="753.50" r="2.3" fill="#000"/>
<line x1="75.50" y1="770.30" x2="88.70" y2="770.30" stroke="#8c8c8c" stroke-width="1.3" />
<circle cx="82.10" cy="770.30" r="2.3" fill="#8c8c8c"/>
<text x="94.50" y="758.30" font-size="11.4" text-anchor="start" fill="#000" >WT</text>
<text x="94.50" y="773.60" font-size="11.4">CD4-Ift20<tspan font-size="6.6" dy="-4.6">-/-</tspan></text>
<text x="153.00" y="765.20" font-size="11.6" text-anchor="start" fill="#000" >+αCD3/CD28</text>
<rect x="225.80" y="749.80" width="2.00" height="21.10" fill="#000" stroke="none" stroke-width="0" />
<line x1="231.80" y1="750.60" x2="244.20" y2="750.60" stroke="#3a48b8" stroke-width="1.3" />
<circle cx="238.00" cy="750.60" r="2.3" fill="#3a48b8"/>
<line x1="231.80" y1="768.90" x2="244.20" y2="768.90" stroke="#e3302a" stroke-width="1.3" />
<circle cx="238.00" cy="768.90" r="2.3" fill="#e3302a"/>
<text x="251.00" y="757.30" font-size="11.4" text-anchor="start" fill="#000" >WT</text>
<text x="251.00" y="773.40" font-size="11.4">CD4-Ift20<tspan font-size="6.6" dy="-4.6">-/-</tspan></text>
<text x="261.40" y="286.70" font-size="17.5" text-anchor="start" fill="#000" font-weight="bold" >D</text>
<text x="254.90" y="541.90" font-size="17.5" text-anchor="start" fill="#000" font-weight="bold" >F</text>
<rect x="312.20" y="350.50" width="25.40" height="86.30" fill="#fff" stroke="#000" stroke-width="1.8" />
<rect x="351.30" y="383.70" width="27.80" height="53.10" fill="#090909" stroke="none" stroke-width="0" />
<line x1="324.90" y1="350.50" x2="324.90" y2="347.20" stroke="#000" stroke-width="1.1" />
<line x1="318.10" y1="347.20" x2="331.70" y2="347.20" stroke="#000" stroke-width="1.1" />
<line x1="324.90" y1="350.50" x2="324.90" y2="352.00" stroke="#555" stroke-width="1.1" />
<line x1="318.10" y1="352.00" x2="331.70" y2="352.00" stroke="#555" stroke-width="1.1" />
<circle cx="316.70" cy="347.50" r="2.1" fill="#4650bb" stroke="#000" stroke-width="1.2"/>
<circle cx="324.80" cy="343.20" r="2.1" fill="#4650bb" stroke="#000" stroke-width="1.2"/>
<circle cx="324.80" cy="350.40" r="2.1" fill="#4650bb" stroke="#000" stroke-width="1.2"/>
<circle cx="332.60" cy="348.80" r="2.1" fill="#4650bb" stroke="#000" stroke-width="1.2"/>
<circle cx="324.80" cy="358.10" r="2.1" fill="#4650bb" stroke="#000" stroke-width="1.2"/>
<circle cx="357.20" cy="379.50" r="2.1" fill="#e3392b" stroke="#000" stroke-width="1.2"/>
<circle cx="365.10" cy="383.70" r="2.1" fill="#e3392b" stroke="#000" stroke-width="1.2"/>
<circle cx="373.00" cy="381.30" r="2.1" fill="#e3392b" stroke="#000" stroke-width="1.2"/>
<circle cx="357.20" cy="387.20" r="2.1" fill="#e3392b" stroke="#000" stroke-width="1.2"/>
<circle cx="373.00" cy="386.30" r="2.1" fill="#e3392b" stroke="#000" stroke-width="1.2"/>
<line x1="297.90" y1="309.90" x2="297.90" y2="437.80" stroke="#000" stroke-width="2.0" />
<line x1="296.90" y1="436.80" x2="394.00" y2="436.80" stroke="#000" stroke-width="2.0" />
<line x1="293.50" y1="436.80" x2="297.90" y2="436.80" stroke="#000" stroke-width="1.6" />
<text transform="translate(294.00 439.00) scale(0.95 1)" x="0" y="0" font-size="12.0" text-anchor="end" fill="#000">0</text>
<line x1="293.50" y1="394.80" x2="297.90" y2="394.80" stroke="#000" stroke-width="1.6" />
<text transform="translate(294.00 397.90) scale(0.95 1)" x="0" y="0" font-size="12.0" text-anchor="end" fill="#000">50</text>
<line x1="293.50" y1="352.80" x2="297.90" y2="352.80" stroke="#000" stroke-width="1.6" />
<text transform="translate(294.00 355.90) scale(0.95 1)" x="0" y="0" font-size="12.0" text-anchor="end" fill="#000">100</text>
<line x1="293.50" y1="310.80" x2="297.90" y2="310.80" stroke="#000" stroke-width="1.6" />
<text transform="translate(294.00 313.90) scale(0.95 1)" x="0" y="0" font-size="12.0" text-anchor="end" fill="#000">150</text>
<line x1="325.00" y1="436.80" x2="325.00" y2="441.00" stroke="#000" stroke-width="1.6" />
<line x1="365.30" y1="436.80" x2="365.30" y2="441.00" stroke="#000" stroke-width="1.6" />
<text x="325.00" y="454.00" font-size="11.5" text-anchor="middle" fill="#000" >WT</text>
<text x="365.30" y="454.00" font-size="11.5" text-anchor="middle">CD4-Ift20<tspan font-size="6.5" dy="-4.3">-/-</tspan></text>
<text x="339.00" y="291.40" font-size="11.3" text-anchor="middle" fill="#000" font-weight="bold" >Glycolysis</text>
<line x1="324.80" y1="336.00" x2="366.00" y2="336.00" stroke="#000" stroke-width="1.8" />
<path d="M341.40,327.43 L342.01,328.89 L343.59,329.02 L342.38,330.05 L342.75,331.59 L341.40,330.77 L340.05,331.59 L340.42,330.05 L339.21,329.02 L340.79,328.89 Z" fill="#000"/>
<path d="M346.30,327.43 L346.91,328.89 L348.49,329.02 L347.28,330.05 L347.65,331.59 L346.30,330.77 L344.95,331.59 L345.32,330.05 L344.11,329.02 L345.69,328.89 Z" fill="#000"/>
<path d="M351.10,327.43 L351.71,328.89 L353.29,329.02 L352.08,330.05 L352.45,331.59 L351.10,330.77 L349.75,331.59 L350.12,330.05 L348.91,329.02 L350.49,328.89 Z" fill="#000"/>
<text x="271.50" y="371.00" font-size="11.5" text-anchor="middle" fill="#000" transform="rotate(-90 271.50 371.00)" >ECAR (mpH/min)</text>
<rect x="431.70" y="338.10" width="26.50" height="98.70" fill="#fff" stroke="#000" stroke-width="1.8" />
<rect x="471.80" y="369.30" width="27.50" height="67.50" fill="#090909" stroke="none" stroke-width="0" />
<line x1="445.20" y1="338.00" x2="445.20" y2="333.60" stroke="#000" stroke-width="1.1" />
<line x1="438.40" y1="333.60" x2="452.00" y2="333.60" stroke="#000" stroke-width="1.1" />
<line x1="445.20" y1="338.00" x2="445.20" y2="340.70" stroke="#555" stroke-width="1.1" />
<line x1="438.40" y1="340.70" x2="452.00" y2="340.70" stroke="#555" stroke-width="1.1" />
<line x1="485.50" y1="370.00" x2="485.50" y2="367.90" stroke="#000" stroke-width="1.1" />
<line x1="478.50" y1="367.90" x2="492.50" y2="367.90" stroke="#000" stroke-width="1.1" />
<circle cx="437.00" cy="332.10" r="2.1" fill="#4650bb" stroke="#000" stroke-width="1.2"/>
<circle cx="445.20" cy="330.70" r="2.1" fill="#4650bb" stroke="#000" stroke-width="1.2"/>
<circle cx="445.20" cy="336.20" r="2.1" fill="#4650bb" stroke="#000" stroke-width="1.2"/>
<circle cx="453.40" cy="334.80" r="2.1" fill="#4650bb" stroke="#000" stroke-width="1.2"/>
<circle cx="445.20" cy="349.50" r="2.1" fill="#4650bb" stroke="#000" stroke-width="1.2"/>
<circle cx="477.50" cy="364.20" r="2.1" fill="#e3392b" stroke="#000" stroke-width="1.2"/>
<circle cx="493.20" cy="364.80" r="2.1" fill="#e3392b" stroke="#000" stroke-width="1.2"/>
<circle cx="477.50" cy="373.00" r="2.1" fill="#e3392b" stroke="#000" stroke-width="1.2"/>
<circle cx="485.00" cy="372.00" r="2.1" fill="#e3392b" stroke="#000" stroke-width="1.2"/>
<circle cx="493.20" cy="372.40" r="2.1" fill="#e3392b" stroke="#000" stroke-width="1.2"/>
<line x1="418.00" y1="309.90" x2="418.00" y2="437.80" stroke="#000" stroke-width="2.0" />
<line x1="417.00" y1="436.80" x2="513.60" y2="436.80" stroke="#000" stroke-width="2.0" />
<line x1="413.60" y1="436.80" x2="418.00" y2="436.80" stroke="#000" stroke-width="1.6" />
<text transform="translate(414.10 439.00) scale(0.95 1)" x="0" y="0" font-size="12.0" text-anchor="end" fill="#000">0</text>
<line x1="413.60" y1="394.80" x2="418.00" y2="394.80" stroke="#000" stroke-width="1.6" />
<text transform="translate(414.10 397.90) scale(0.95 1)" x="0" y="0" font-size="12.0" text-anchor="end" fill="#000">50</text>
<line x1="413.60" y1="352.80" x2="418.00" y2="352.80" stroke="#000" stroke-width="1.6" />
<text transform="translate(414.10 355.90) scale(0.95 1)" x="0" y="0" font-size="12.0" text-anchor="end" fill="#000">100</text>
<line x1="413.60" y1="310.80" x2="418.00" y2="310.80" stroke="#000" stroke-width="1.6" />
<text transform="translate(414.10 313.90) scale(0.95 1)" x="0" y="0" font-size="12.0" text-anchor="end" fill="#000">150</text>
<line x1="445.10" y1="436.80" x2="445.10" y2="441.00" stroke="#000" stroke-width="1.6" />
<line x1="485.00" y1="436.80" x2="485.00" y2="441.00" stroke="#000" stroke-width="1.6" />
<text x="445.10" y="454.00" font-size="11.5" text-anchor="middle" fill="#000" >WT</text>
<text x="485.00" y="454.00" font-size="11.5" text-anchor="middle">CD4-Ift20<tspan font-size="6.5" dy="-4.3">-/-</tspan></text>
<text x="457.80" y="291.20" font-size="11.45" text-anchor="middle" fill="#000" font-weight="bold" >Glycolytic capacity</text>
<line x1="447.20" y1="320.80" x2="491.80" y2="320.80" stroke="#000" stroke-width="1.8" />
<path d="M465.80,312.73 L466.41,314.19 L467.99,314.32 L466.78,315.35 L467.15,316.89 L465.80,316.07 L464.45,316.89 L464.82,315.35 L463.61,314.32 L465.19,314.19 Z" fill="#000"/>
<path d="M470.80,312.73 L471.41,314.19 L472.99,314.32 L471.78,315.35 L472.15,316.89 L470.80,316.07 L469.45,316.89 L469.82,315.35 L468.61,314.32 L470.19,314.19 Z" fill="#000"/>
<path d="M475.80,312.73 L476.41,314.19 L477.99,314.32 L476.78,315.35 L477.15,316.89 L475.80,316.07 L474.45,316.89 L474.82,315.35 L473.61,314.32 L475.19,314.19 Z" fill="#000"/>
<rect x="551.00" y="373.30" width="26.30" height="63.50" fill="#fff" stroke="#000" stroke-width="1.8" />
<rect x="590.90" y="363.80" width="27.90" height="73.00" fill="#090909" stroke="none" stroke-width="0" />
<line x1="564.40" y1="373.00" x2="564.40" y2="363.40" stroke="#000" stroke-width="1.1" />
<line x1="557.70" y1="363.40" x2="571.10" y2="363.40" stroke="#000" stroke-width="1.1" />
<line x1="564.40" y1="373.00" x2="564.40" y2="380.10" stroke="#555" stroke-width="1.1" />
<line x1="557.70" y1="380.10" x2="571.10" y2="380.10" stroke="#555" stroke-width="1.1" />
<line x1="604.80" y1="364.00" x2="604.80" y2="352.10" stroke="#000" stroke-width="1.1" />
<line x1="597.70" y1="352.10" x2="611.90" y2="352.10" stroke="#000" stroke-width="1.1" />
<circle cx="564.40" cy="346.40" r="2.1" fill="#4650bb" stroke="#000" stroke-width="1.2"/>
<circle cx="564.40" cy="358.30" r="2.1" fill="#4650bb" stroke="#000" stroke-width="1.2"/>
<circle cx="556.10" cy="381.60" r="2.1" fill="#4650bb" stroke="#000" stroke-width="1.2"/>
<circle cx="572.40" cy="381.60" r="2.1" fill="#4650bb" stroke="#000" stroke-width="1.2"/>
<circle cx="564.40" cy="392.40" r="2.1" fill="#4650bb" stroke="#000" stroke-width="1.2"/>
<circle cx="604.70" cy="322.30" r="2.1" fill="#e3392b" stroke="#000" stroke-width="1.2"/>
<circle cx="596.50" cy="361.10" r="2.1" fill="#e3392b" stroke="#000" stroke-width="1.2"/>
<circle cx="604.70" cy="363.40" r="2.1" fill="#e3392b" stroke="#000" stroke-width="1.2"/>
<circle cx="604.70" cy="383.80" r="2.1" fill="#e3392b" stroke="#000" stroke-width="1.2"/>
<circle cx="604.70" cy="389.70" r="2.1" fill="#e3392b" stroke="#000" stroke-width="1.2"/>
<line x1="537.40" y1="309.90" x2="537.40" y2="437.80" stroke="#000" stroke-width="2.0" />
<line x1="536.40" y1="436.80" x2="632.90" y2="436.80" stroke="#000" stroke-width="2.0" />
<line x1="533.00" y1="436.80" x2="537.40" y2="436.80" stroke="#000" stroke-width="1.6" />
<text transform="translate(533.50 439.00) scale(0.95 1)" x="0" y="0" font-size="12.0" text-anchor="end" fill="#000">0</text>
<line x1="533.00" y1="394.90" x2="537.40" y2="394.90" stroke="#000" stroke-width="1.6" />
<text transform="translate(533.50 398.00) scale(0.95 1)" x="0" y="0" font-size="12.0" text-anchor="end" fill="#000">10</text>
<line x1="533.00" y1="353.00" x2="537.40" y2="353.00" stroke="#000" stroke-width="1.6" />
<text transform="translate(533.50 356.10) scale(0.95 1)" x="0" y="0" font-size="12.0" text-anchor="end" fill="#000">20</text>
<line x1="533.00" y1="311.10" x2="537.40" y2="311.10" stroke="#000" stroke-width="1.6" />
<text transform="translate(533.50 314.20) scale(0.95 1)" x="0" y="0" font-size="12.0" text-anchor="end" fill="#000">30</text>
<line x1="564.20" y1="436.80" x2="564.20" y2="441.00" stroke="#000" stroke-width="1.6" />
<line x1="604.80" y1="436.80" x2="604.80" y2="441.00" stroke="#000" stroke-width="1.6" />
<text x="564.20" y="454.00" font-size="11.5" text-anchor="middle" fill="#000" >WT</text>
<text x="604.80" y="454.00" font-size="11.5" text-anchor="middle">CD4-Ift20<tspan font-size="6.5" dy="-4.3">-/-</tspan></text>
<text x="581.80" y="291.20" font-size="11.5" text-anchor="middle" fill="#000" font-weight="bold" >Glycolytic reserve</text>
<rect x="306.30" y="591.40" width="19.80" height="101.10" fill="#fff" stroke="#000" stroke-width="1.8" />
<rect x="337.30" y="636.10" width="20.80" height="56.40" fill="#090909" stroke="none" stroke-width="0" />
<line x1="316.20" y1="591.50" x2="316.20" y2="585.70" stroke="#000" stroke-width="1.1" />
<line x1="309.40" y1="585.70" x2="323.00" y2="585.70" stroke="#000" stroke-width="1.1" />
<line x1="316.20" y1="591.50" x2="316.20" y2="595.30" stroke="#555" stroke-width="1.1" />
<line x1="309.40" y1="595.30" x2="323.00" y2="595.30" stroke="#555" stroke-width="1.1" />
<circle cx="316.10" cy="574.00" r="2.0" fill="#4650bb" stroke="#000" stroke-width="1.2"/>
<circle cx="309.20" cy="588.00" r="2.0" fill="#4650bb" stroke="#000" stroke-width="1.2"/>
<circle cx="323.10" cy="587.60" r="2.0" fill="#4650bb" stroke="#000" stroke-width="1.2"/>
<circle cx="316.10" cy="598.40" r="2.0" fill="#4650bb" stroke="#000" stroke-width="1.2"/>
<circle cx="316.10" cy="602.90" r="2.0" fill="#4650bb" stroke="#000" stroke-width="1.2"/>
<circle cx="341.00" cy="633.70" r="2.0" fill="#e3392b" stroke="#000" stroke-width="1.2"/>
<circle cx="354.10" cy="632.80" r="2.0" fill="#e3392b" stroke="#000" stroke-width="1.2"/>
<circle cx="347.70" cy="636.50" r="2.0" fill="#e3392b" stroke="#000" stroke-width="1.2"/>
<circle cx="341.00" cy="638.00" r="2.0" fill="#e3392b" stroke="#000" stroke-width="1.2"/>
<circle cx="354.10" cy="637.70" r="2.0" fill="#e3392b" stroke="#000" stroke-width="1.2"/>
<line x1="295.20" y1="560.80" x2="295.20" y2="693.50" stroke="#000" stroke-width="2.0" />
<line x1="294.20" y1="692.50" x2="370.20" y2="692.50" stroke="#000" stroke-width="2.0" />
<line x1="290.80" y1="692.50" x2="295.20" y2="692.50" stroke="#000" stroke-width="1.6" />
<text transform="translate(289.60 695.80) scale(0.98 1)" x="0" y="0" font-size="12.0" text-anchor="end" fill="#000">0</text>
<line x1="290.80" y1="659.80" x2="295.20" y2="659.80" stroke="#000" stroke-width="1.6" />
<text transform="translate(289.60 664.30) scale(0.98 1)" x="0" y="0" font-size="12.0" text-anchor="end" fill="#000">50</text>
<line x1="290.80" y1="627.10" x2="295.20" y2="627.10" stroke="#000" stroke-width="1.6" />
<text transform="translate(289.60 631.60) scale(0.98 1)" x="0" y="0" font-size="12.0" text-anchor="end" fill="#000">100</text>
<line x1="290.80" y1="594.40" x2="295.20" y2="594.40" stroke="#000" stroke-width="1.6" />
<text transform="translate(289.60 598.90) scale(0.98 1)" x="0" y="0" font-size="12.0" text-anchor="end" fill="#000">150</text>
<line x1="290.80" y1="561.70" x2="295.20" y2="561.70" stroke="#000" stroke-width="1.6" />
<text transform="translate(289.60 566.20) scale(0.98 1)" x="0" y="0" font-size="12.0" text-anchor="end" fill="#000">200</text>
<line x1="316.20" y1="692.50" x2="316.20" y2="696.70" stroke="#000" stroke-width="1.6" />
<line x1="347.70" y1="692.50" x2="347.70" y2="696.70" stroke="#000" stroke-width="1.6" />
<text x="304.80" y="712.60" font-size="11.5" text-anchor="start" fill="#000" >WT</text>
<text x="325.90" y="712.60" font-size="11.5">CD4-Ift20<tspan font-size="6.6" dy="-4.4">-/-</tspan></text>
<text x="331.40" y="542.70" font-size="11.1" text-anchor="middle" fill="#000" font-weight="bold" >Basal</text>
<line x1="315.60" y1="566.90" x2="348.50" y2="566.90" stroke="#000" stroke-width="1.8" />
<path d="M327.70,559.89 L328.20,561.10 L329.51,561.20 L328.51,562.05 L328.82,563.33 L327.70,562.65 L326.58,563.33 L326.89,562.05 L325.89,561.20 L327.20,561.10 Z" fill="#000"/>
<path d="M332.70,559.89 L333.20,561.10 L334.51,561.20 L333.51,562.05 L333.82,563.33 L332.70,562.65 L331.58,563.33 L331.89,562.05 L330.89,561.20 L332.20,561.10 Z" fill="#000"/>
<path d="M338.00,559.89 L338.50,561.10 L339.81,561.20 L338.81,562.05 L339.12,563.33 L338.00,562.65 L336.88,563.33 L337.19,562.05 L336.19,561.20 L337.50,561.10 Z" fill="#000"/>
<text x="268.90" y="619.20" font-size="11.8" text-anchor="middle" fill="#000" transform="rotate(-90 268.90 619.20)" >OCR (pmol/min)</text>
<rect x="407.00" y="607.00" width="19.40" height="85.50" fill="#fff" stroke="#000" stroke-width="1.8" />
<rect x="437.90" y="652.90" width="20.70" height="39.60" fill="#090909" stroke="none" stroke-width="0" />
<line x1="416.60" y1="607.00" x2="416.60" y2="596.10" stroke="#000" stroke-width="1.1" />
<line x1="411.00" y1="596.10" x2="422.20" y2="596.10" stroke="#000" stroke-width="1.1" />
<line x1="416.60" y1="607.00" x2="416.60" y2="615.30" stroke="#555" stroke-width="1.1" />
<line x1="411.00" y1="615.30" x2="422.20" y2="615.30" stroke="#555" stroke-width="1.1" />
<circle cx="416.60" cy="571.30" r="2.0" fill="#4650bb" stroke="#000" stroke-width="1.2"/>
<circle cx="423.00" cy="607.20" r="2.0" fill="#4650bb" stroke="#000" stroke-width="1.2"/>
<circle cx="416.60" cy="609.60" r="2.0" fill="#4650bb" stroke="#000" stroke-width="1.2"/>
<circle cx="416.60" cy="617.30" r="2.0" fill="#4650bb" stroke="#000" stroke-width="1.2"/>
<circle cx="416.60" cy="624.60" r="2.0" fill="#4650bb" stroke="#000" stroke-width="1.2"/>
<circle cx="441.80" cy="648.90" r="2.0" fill="#e3392b" stroke="#000" stroke-width="1.2"/>
<circle cx="448.20" cy="652.60" r="2.0" fill="#e3392b" stroke="#000" stroke-width="1.2"/>
<circle cx="454.80" cy="651.00" r="2.0" fill="#e3392b" stroke="#000" stroke-width="1.2"/>
<circle cx="441.80" cy="656.10" r="2.0" fill="#e3392b" stroke="#000" stroke-width="1.2"/>
<circle cx="454.80" cy="655.30" r="2.0" fill="#e3392b" stroke="#000" stroke-width="1.2"/>
<line x1="395.60" y1="560.70" x2="395.60" y2="693.50" stroke="#000" stroke-width="2.0" />
<line x1="394.60" y1="692.50" x2="470.40" y2="692.50" stroke="#000" stroke-width="2.0" />
<line x1="391.20" y1="692.50" x2="395.60" y2="692.50" stroke="#000" stroke-width="1.6" />
<text transform="translate(390.00 695.80) scale(0.98 1)" x="0" y="0" font-size="12.0" text-anchor="end" fill="#000">0</text>
<line x1="391.20" y1="659.75" x2="395.60" y2="659.75" stroke="#000" stroke-width="1.6" />
<text transform="translate(390.00 664.25) scale(0.98 1)" x="0" y="0" font-size="12.0" text-anchor="end" fill="#000">100</text>
<line x1="391.20" y1="627.00" x2="395.60" y2="627.00" stroke="#000" stroke-width="1.6" />
<text transform="translate(390.00 631.50) scale(0.98 1)" x="0" y="0" font-size="12.0" text-anchor="end" fill="#000">200</text>
<line x1="391.20" y1="594.25" x2="395.60" y2="594.25" stroke="#000" stroke-width="1.6" />
<text transform="translate(390.00 598.75) scale(0.98 1)" x="0" y="0" font-size="12.0" text-anchor="end" fill="#000">300</text>
<line x1="391.20" y1="561.50" x2="395.60" y2="561.50" stroke="#000" stroke-width="1.6" />
<text transform="translate(390.00 566.00) scale(0.98 1)" x="0" y="0" font-size="12.0" text-anchor="end" fill="#000">400</text>
<line x1="416.60" y1="692.50" x2="416.60" y2="696.70" stroke="#000" stroke-width="1.6" />
<line x1="448.20" y1="692.50" x2="448.20" y2="696.70" stroke="#000" stroke-width="1.6" />
<text x="404.40" y="712.60" font-size="11.5" text-anchor="start" fill="#000" >WT</text>
<text x="425.70" y="712.60" font-size="11.5">CD4-Ift20<tspan font-size="6.6" dy="-4.4">-/-</tspan></text>
<text x="428.00" y="542.70" font-size="11.3" text-anchor="middle" fill="#000" font-weight="bold" >Maximal</text>
<line x1="416.30" y1="564.00" x2="449.00" y2="564.00" stroke="#000" stroke-width="1.8" />
<path d="M431.40,556.11 L431.96,557.45 L433.40,557.56 L432.30,558.50 L432.63,559.91 L431.40,559.16 L430.17,559.91 L430.50,558.50 L429.40,557.56 L430.84,557.45 Z" fill="#000"/>
<path d="M436.50,556.11 L437.06,557.45 L438.50,557.56 L437.40,558.50 L437.73,559.91 L436.50,559.16 L435.27,559.91 L435.60,558.50 L434.50,557.56 L435.94,557.45 Z" fill="#000"/>
<rect x="505.20" y="620.60" width="19.80" height="71.70" fill="#fff" stroke="#000" stroke-width="1.8" />
<rect x="536.20" y="668.50" width="22.50" height="23.80" fill="#090909" stroke="none" stroke-width="0" />
<line x1="515.30" y1="620.60" x2="515.30" y2="605.30" stroke="#000" stroke-width="1.1" />
<line x1="509.90" y1="605.30" x2="520.70" y2="605.30" stroke="#000" stroke-width="1.1" />
<line x1="515.30" y1="620.60" x2="515.30" y2="633.70" stroke="#555" stroke-width="1.1" />
<line x1="509.90" y1="633.70" x2="520.70" y2="633.70" stroke="#555" stroke-width="1.1" />
<line x1="547.50" y1="669.00" x2="547.50" y2="666.60" stroke="#000" stroke-width="1.1" />
<line x1="542.30" y1="666.60" x2="552.70" y2="666.60" stroke="#000" stroke-width="1.1" />
<circle cx="515.00" cy="564.30" r="2.0" fill="#4650bb" stroke="#000" stroke-width="1.2"/>
<circle cx="515.30" cy="624.00" r="2.0" fill="#4650bb" stroke="#000" stroke-width="1.2"/>
<circle cx="515.30" cy="628.80" r="2.0" fill="#4650bb" stroke="#000" stroke-width="1.2"/>
<circle cx="515.30" cy="634.80" r="2.0" fill="#4650bb" stroke="#000" stroke-width="1.2"/>
<circle cx="515.30" cy="644.90" r="2.0" fill="#4650bb" stroke="#000" stroke-width="1.2"/>
<circle cx="547.60" cy="659.30" r="2.0" fill="#e3392b" stroke="#000" stroke-width="1.2"/>
<circle cx="554.30" cy="667.40" r="2.0" fill="#e3392b" stroke="#000" stroke-width="1.2"/>
<circle cx="547.60" cy="671.10" r="2.0" fill="#e3392b" stroke="#000" stroke-width="1.2"/>
<circle cx="540.70" cy="673.00" r="2.0" fill="#e3392b" stroke="#000" stroke-width="1.2"/>
<circle cx="554.30" cy="672.70" r="2.0" fill="#e3392b" stroke="#000" stroke-width="1.2"/>
<line x1="493.30" y1="557.10" x2="493.30" y2="693.30" stroke="#000" stroke-width="2.0" />
<line x1="492.30" y1="692.30" x2="570.40" y2="692.30" stroke="#000" stroke-width="2.0" />
<line x1="488.90" y1="692.30" x2="493.30" y2="692.30" stroke="#000" stroke-width="1.6" />
<text transform="translate(487.70 695.60) scale(0.98 1)" x="0" y="0" font-size="12.0" text-anchor="end" fill="#000">0</text>
<line x1="488.90" y1="658.75" x2="493.30" y2="658.75" stroke="#000" stroke-width="1.6" />
<text transform="translate(487.70 663.25) scale(0.98 1)" x="0" y="0" font-size="12.0" text-anchor="end" fill="#000">50</text>
<line x1="488.90" y1="625.20" x2="493.30" y2="625.20" stroke="#000" stroke-width="1.6" />
<text transform="translate(487.70 629.70) scale(0.98 1)" x="0" y="0" font-size="12.0" text-anchor="end" fill="#000">100</text>
<line x1="488.90" y1="591.65" x2="493.30" y2="591.65" stroke="#000" stroke-width="1.6" />
<text transform="translate(487.70 596.15) scale(0.98 1)" x="0" y="0" font-size="12.0" text-anchor="end" fill="#000">150</text>
<line x1="488.90" y1="558.10" x2="493.30" y2="558.10" stroke="#000" stroke-width="1.6" />
<text transform="translate(487.70 562.60) scale(0.98 1)" x="0" y="0" font-size="12.0" text-anchor="end" fill="#000">200</text>
<line x1="515.30" y1="692.30" x2="515.30" y2="696.50" stroke="#000" stroke-width="1.6" />
<line x1="547.40" y1="692.30" x2="547.40" y2="696.50" stroke="#000" stroke-width="1.6" />
<text x="504.40" y="712.60" font-size="11.5" text-anchor="start" fill="#000" >WT</text>
<text x="525.70" y="712.60" font-size="11.5">CD4-Ift20<tspan font-size="6.6" dy="-4.4">-/-</tspan></text>
<text x="531.70" y="541.90" font-size="11.3" text-anchor="middle" fill="#000" font-weight="bold" >SRC</text>
<line x1="514.60" y1="558.20" x2="548.40" y2="558.20" stroke="#000" stroke-width="1.8" />
<path d="M529.90,549.92 L530.48,551.32 L531.99,551.44 L530.84,552.43 L531.19,553.90 L529.90,553.11 L528.61,553.90 L528.96,552.43 L527.81,551.44 L529.32,551.32 Z" fill="#000"/>
<path d="M535.10,549.92 L535.68,551.32 L537.19,551.44 L536.04,552.43 L536.39,553.90 L535.10,553.11 L533.81,553.90 L534.16,552.43 L533.01,551.44 L534.52,551.32 Z" fill="#000"/>
<rect x="608.10" y="603.50" width="20.80" height="88.30" fill="#fff" stroke="#000" stroke-width="1.8" />
<rect x="640.20" y="637.60" width="21.60" height="54.20" fill="#090909" stroke="none" stroke-width="0" />
<line x1="618.50" y1="603.50" x2="618.50" y2="596.30" stroke="#000" stroke-width="1.1" />
<line x1="613.80" y1="596.30" x2="623.20" y2="596.30" stroke="#000" stroke-width="1.1" />
<line x1="618.50" y1="603.50" x2="618.50" y2="608.10" stroke="#555" stroke-width="1.1" />
<line x1="613.80" y1="608.10" x2="623.20" y2="608.10" stroke="#555" stroke-width="1.1" />
<circle cx="618.30" cy="583.40" r="2.0" fill="#4650bb" stroke="#000" stroke-width="1.2"/>
<circle cx="611.60" cy="600.00" r="2.0" fill="#4650bb" stroke="#000" stroke-width="1.2"/>
<circle cx="625.10" cy="602.20" r="2.0" fill="#4650bb" stroke="#000" stroke-width="1.2"/>
<circle cx="618.30" cy="605.20" r="2.0" fill="#4650bb" stroke="#000" stroke-width="1.2"/>
<circle cx="618.30" cy="621.00" r="2.0" fill="#4650bb" stroke="#000" stroke-width="1.2"/>
<circle cx="651.10" cy="631.40" r="2.0" fill="#e3392b" stroke="#000" stroke-width="1.2"/>
<circle cx="643.90" cy="636.80" r="2.0" fill="#e3392b" stroke="#000" stroke-width="1.2"/>
<circle cx="651.10" cy="637.60" r="2.0" fill="#e3392b" stroke="#000" stroke-width="1.2"/>
<circle cx="643.90" cy="641.80" r="2.0" fill="#e3392b" stroke="#000" stroke-width="1.2"/>
<circle cx="657.60" cy="640.50" r="2.0" fill="#e3392b" stroke="#000" stroke-width="1.2"/>
<line x1="596.90" y1="554.60" x2="596.90" y2="692.80" stroke="#000" stroke-width="2.0" />
<line x1="595.90" y1="691.80" x2="673.70" y2="691.80" stroke="#000" stroke-width="2.0" />
<line x1="592.50" y1="691.80" x2="596.90" y2="691.80" stroke="#000" stroke-width="1.6" />
<text transform="translate(591.30 695.10) scale(0.98 1)" x="0" y="0" font-size="12.0" text-anchor="end" fill="#000">0</text>
<line x1="592.50" y1="646.26" x2="596.90" y2="646.26" stroke="#000" stroke-width="1.6" />
<text transform="translate(591.30 650.76) scale(0.98 1)" x="0" y="0" font-size="12.0" text-anchor="end" fill="#000">50</text>
<line x1="592.50" y1="600.73" x2="596.90" y2="600.73" stroke="#000" stroke-width="1.6" />
<text transform="translate(591.30 605.23) scale(0.98 1)" x="0" y="0" font-size="12.0" text-anchor="end" fill="#000">100</text>
<line x1="592.50" y1="555.19" x2="596.90" y2="555.19" stroke="#000" stroke-width="1.6" />
<text transform="translate(591.30 559.69) scale(0.98 1)" x="0" y="0" font-size="12.0" text-anchor="end" fill="#000">150</text>
<line x1="618.70" y1="691.80" x2="618.70" y2="696.00" stroke="#000" stroke-width="1.6" />
<line x1="651.10" y1="691.80" x2="651.10" y2="696.00" stroke="#000" stroke-width="1.6" />
<text x="608.90" y="712.60" font-size="11.5" text-anchor="start" fill="#000" >WT</text>
<text x="629.10" y="712.60" font-size="11.5">CD4-Ift20<tspan font-size="6.6" dy="-4.4">-/-</tspan></text>
<text x="634.70" y="539.80" font-size="11.6" text-anchor="middle" fill="#000" font-weight="bold" >ATP</text>
<line x1="617.00" y1="574.80" x2="651.90" y2="574.80" stroke="#000" stroke-width="1.8" />
<path d="M630.30,565.42 L630.88,566.82 L632.39,566.94 L631.24,567.93 L631.59,569.40 L630.30,568.61 L629.01,569.40 L629.36,567.93 L628.21,566.94 L629.72,566.82 Z" fill="#000"/>
<path d="M635.40,565.42 L635.98,566.82 L637.49,566.94 L636.34,567.93 L636.69,569.40 L635.40,568.61 L634.11,569.40 L634.46,567.93 L633.31,566.94 L634.82,566.82 Z" fill="#000"/>
<path d="M640.60,565.42 L641.18,566.82 L642.69,566.94 L641.54,567.93 L641.89,569.40 L640.60,568.61 L639.31,569.40 L639.66,567.93 L638.51,566.94 L640.02,566.82 Z" fill="#000"/>
</svg>
</body></html>
